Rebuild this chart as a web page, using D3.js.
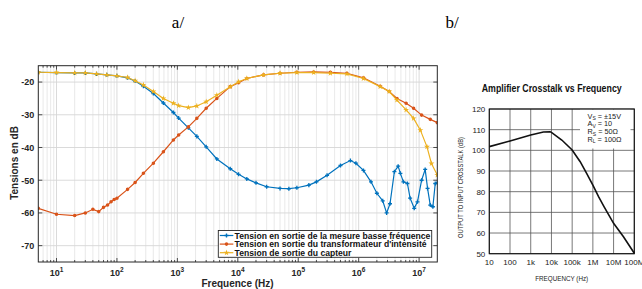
<!DOCTYPE html>
<html><head><meta charset="utf-8">
<script src="https://cdn.jsdelivr.net/npm/d3@7"></script>
<style>body{margin:0;background:#fff}svg{display:block}</style>
</head><body>
<svg id="c" width="642" height="289"></svg>
<script>
// ---------- Chart a/ data ----------
const seriesNames = ["Tension en sortie de la mesure basse fréquence","Tension en sortie du transformateur d'intensité","Tension de sortie du capteur"];
const freqBF = [5,10,20,30,46,68,100,150,200,274,401,587,860,1050,1520,2100,3000,4500,7500,10300,14100,20000,30000,50000,70000,95000,150000,200000,300000,500000,730000,900000,1200000,1600000,2000000,2500000,2900000,3300000,3900000,4500000,4900000,5500000,6400000,7100000,8300000,9400000,11000000,12600000,13800000,15300000,16900000,18500000,20000000];
const dbBF = [-17,-17.1,-17.2,-17.2,-17.5,-17.8,-18.1,-18.7,-19.7,-21.3,-23.5,-26.4,-29.3,-31,-34,-36.6,-39.8,-43.5,-46.5,-48.2,-49.6,-50.8,-52,-52.5,-52.6,-52.3,-51.5,-50.5,-48.5,-45.5,-44,-44.8,-47,-50.5,-54,-56.3,-60,-57.2,-47.4,-45.7,-47.9,-50.5,-51,-55.5,-58.6,-56.6,-50,-46.7,-52.5,-57.6,-58.1,-51,-50.8];
const freqTI = [5,10,20,30,40,50,60,70,80,90,100,150,200,274,401,587,860,1050,1520,2100,3000,4500,7500,10300,14100,26700,50000,95000,180000,340000,640000,1200000,2270000,3200000,4300000,6100000,8100000,11000000,15300000,20000000];
const dbTI = [-58.6,-60.4,-60.8,-60,-58.9,-59.6,-58.3,-57.6,-56.6,-55.9,-55.5,-52.8,-50.7,-47.9,-44.8,-41.3,-37.7,-36.2,-33.7,-31.1,-28,-25,-21.4,-20.2,-18.9,-17.8,-17.3,-17,-16.9,-17,-17.3,-18.7,-21.3,-22.9,-25,-26.5,-28,-30.1,-31.4,-32.4];
const freqC = [5,10,20,30,46,68,100,150,200,274,401,587,860,1050,1520,2100,3000,4500,7500,10300,14100,26700,50000,95000,180000,340000,640000,1200000,2270000,3200000,4300000,6100000,8100000,10500000,13500000,16000000,20000000];
const dbC = [-17,-17.1,-17.2,-17.2,-17.5,-17.8,-18.1,-18.6,-19.6,-20.9,-22.9,-25,-26.5,-27.2,-27.8,-27.3,-26,-24,-21.4,-19.9,-18.9,-17.8,-17.3,-17.1,-17.1,-17.3,-17.5,-18.9,-21.4,-22.9,-25.5,-28.5,-31.1,-34.7,-39.8,-44.9,-48.4];
const yTicksA = [-70,-60,-50,-40,-30,-20];
const xExpA = [1,2,3,4,5,6,7];

// ---------- Chart b/ data ----------
const freqX = [10,100,1000,4100,8600,10000,31600,100000,244000,500000,1000000,1880000,3500000,10000000,30000000,100000000];
const crosstalk = [101.8,104.5,107.4,108.9,109,108.7,105,100.2,94.5,88.9,83.2,77.6,72.7,64.7,58.2,50.2];
const xTicksB = [10,100,1e3,1e4,1e5,1e6,1e7,1e8];
const xLabelsB = ["10","100","1k","10k","100k","1M","10M","100M"];
const yTicksB = [50,60,70,80,90,100,110,120];
const condLines = [["V","S"," = ±15V"],["A","V"," = 10"],["R","S"," = 50Ω"],["R","L"," = 100Ω"]];

const svg = d3.select("#c");
const FA = "'Liberation Sans', Arial, Helvetica, sans-serif";
const FN = "'Liberation Sans Narrow', 'Arial Narrow', 'Liberation Sans', Arial, sans-serif";

// panel letters
svg.append("text").attr("x",178).attr("y",28).attr("text-anchor","middle")
  .attr("font-family","'Liberation Serif','Times New Roman',serif").attr("font-size",17).text("a/");
svg.append("text").attr("x",452).attr("y",28).attr("text-anchor","middle")
  .attr("font-family","'Liberation Serif','Times New Roman',serif").attr("font-size",17).text("b/");

// ================= Chart a =================
const A = {l:38.3, r:437.3, t:65.7, b:262};
const xa = d3.scaleLog().domain([5,2e7]).range([A.l,A.r]);
const ya = d3.scaleLinear().domain([-75,-15]).range([A.b,A.t]);
const ga = svg.append("g");
ga.append("rect").attr("x",A.l).attr("y",A.t).attr("width",A.r-A.l).attr("height",A.b-A.t).attr("fill","#fff");
const minorA = [];
for (let d=0; d<=7; d++) for (let k=2;k<=9;k++){const v=k*Math.pow(10,d); if(v>5 && v<2e7) minorA.push(v);}
const majorA = xExpA.map(e=>Math.pow(10,e));
ga.selectAll(".mg").data(minorA).enter().append("line")
  .attr("x1",d=>xa(d)).attr("x2",d=>xa(d)).attr("y1",A.t).attr("y2",A.b)
  .attr("stroke","#e3e3e3").attr("stroke-width",0.8);
ga.selectAll(".Mg").data(majorA).enter().append("line")
  .attr("x1",d=>xa(d)).attr("x2",d=>xa(d)).attr("y1",A.t).attr("y2",A.b)
  .attr("stroke","#d6d6d6").attr("stroke-width",0.9);
ga.selectAll(".yg").data(yTicksA).enter().append("line")
  .attr("x1",A.l).attr("x2",A.r).attr("y1",d=>ya(d)).attr("y2",d=>ya(d))
  .attr("stroke","#d6d6d6").attr("stroke-width",0.9);

const cols = ["#0072BD","#D95319","#EDB120"];
const sets = [[freqBF,dbBF],[freqTI,dbTI],[freqC,dbC]];
svg.append("clipPath").attr("id","ca").append("rect")
  .attr("x",A.l).attr("y",A.t).attr("width",A.r-A.l).attr("height",A.b-A.t);
const gs = ga.append("g").attr("clip-path","url(#ca)");
const line = d3.line().x(d=>xa(d[0])).y(d=>ya(d[1]));
const symbols = [d3.symbolCross, d3.symbolCircle, d3.symbolStar];
const sizes = [9, 10, 11];
sets.forEach((s,i)=>{
  const pts = s[0].map((f,j)=>[f,s[1][j]]);
  gs.append("path").datum(pts).attr("d",line).attr("fill","none").attr("stroke",cols[i]).attr("stroke-width",1.2);
  gs.selectAll(".m"+i).data(pts).enter().append("path")
    .attr("transform",d=>`translate(${xa(d[0])},${ya(d[1])})`)
    .attr("d",d3.symbol().type(symbols[i]).size(sizes[i])).attr("fill",cols[i]);
});

ga.append("rect").attr("x",A.l).attr("y",A.t).attr("width",A.r-A.l).attr("height",A.b-A.t)
  .attr("fill","none").attr("stroke","#262626").attr("stroke-width",1);
const tk = ga.append("g").attr("stroke","#262626").attr("stroke-width",0.8);
minorA.forEach(v=>{
  tk.append("line").attr("x1",xa(v)).attr("x2",xa(v)).attr("y1",A.b).attr("y2",A.b-2);
  tk.append("line").attr("x1",xa(v)).attr("x2",xa(v)).attr("y1",A.t).attr("y2",A.t+2);
});
majorA.forEach(v=>{
  tk.append("line").attr("x1",xa(v)).attr("x2",xa(v)).attr("y1",A.b).attr("y2",A.b-4);
  tk.append("line").attr("x1",xa(v)).attr("x2",xa(v)).attr("y1",A.t).attr("y2",A.t+4);
});
yTicksA.forEach(v=>{
  tk.append("line").attr("x1",A.l).attr("x2",A.l+4).attr("y1",ya(v)).attr("y2",ya(v));
  tk.append("line").attr("x1",A.r).attr("x2",A.r-4).attr("y1",ya(v)).attr("y2",ya(v));
});
ga.selectAll(".yl").data(yTicksA).enter().append("text")
  .attr("x",A.l-4).attr("y",d=>ya(d)+3.3).attr("text-anchor","end")
  .attr("font-family",FA).attr("font-weight","bold").attr("font-size",9).attr("fill","#262626")
  .text(d=>d);
xExpA.forEach(e=>{
  const t = ga.append("text").attr("x",xa(Math.pow(10,e))).attr("y",276).attr("text-anchor","middle")
    .attr("font-family",FA).attr("font-weight","bold").attr("font-size",9).attr("fill","#262626");
  t.append("tspan").text("10");
  t.append("tspan").attr("dy",-4).attr("font-size",6.5).text(e);
});
ga.append("text").attr("x",237.5).attr("y",287).attr("text-anchor","middle")
  .attr("font-family",FA).attr("font-weight","bold").attr("font-size",10).attr("fill","#262626")
  .text("Frequence (Hz)");
ga.append("text").attr("transform","translate(18,163) rotate(-90)").attr("text-anchor","middle")
  .attr("font-family",FA).attr("font-weight","bold").attr("font-size",10).attr("fill","#262626")
  .text("Tensions en dB");

const L = {x:218.3, y:230.5, w:213.4, h:26.8};
ga.append("rect").attr("x",L.x).attr("y",L.y).attr("width",L.w).attr("height",L.h)
  .attr("fill","#fff").attr("stroke","#262626").attr("stroke-width",0.9);
seriesNames.forEach((n,i)=>{
  const yy = L.y + 5 + i*8.6;
  ga.append("line").attr("x1",L.x+1.5).attr("x2",L.x+15).attr("y1",yy).attr("y2",yy)
    .attr("stroke",cols[i]).attr("stroke-width",1.2);
  ga.append("path").attr("transform",`translate(${L.x+8.2},${yy})`)
    .attr("d",d3.symbol().type(symbols[i]).size(sizes[i])).attr("fill",cols[i]);
  ga.append("text").attr("x",L.x+16.3).attr("y",yy+3).attr("font-family",FA).attr("font-weight","bold")
    .attr("font-size",8.6).attr("fill","#111").text(n);
});

// ================= Chart b =================
const B = {l:489.3, r:634.3, t:109, b:253.7};
const xb = d3.scaleLog().domain([10,1e8]).range([B.l,B.r]);
const yb = d3.scaleLinear().domain([50,120]).range([B.b,B.t]);
const gb = svg.append("g");
gb.selectAll(".bx").data(xTicksB).enter().append("line")
  .attr("x1",d=>xb(d)).attr("x2",d=>xb(d)).attr("y1",B.t).attr("y2",B.b)
  .attr("stroke","#555").attr("stroke-width",0.8);
gb.selectAll(".by").data(yTicksB).enter().append("line")
  .attr("x1",B.l).attr("x2",B.r).attr("y1",d=>yb(d)).attr("y2",d=>yb(d))
  .attr("stroke","#555").attr("stroke-width",0.8);
gb.append("rect").attr("x",580).attr("y",B.t+0.5).attr("width",50.5).attr("height",39).attr("fill","#fff");
condLines.forEach((c,i)=>{
  const t = gb.append("text").attr("x",587.5).attr("y",118.8+i*7.6)
    .attr("font-family",FN).attr("font-size",7.3).attr("fill","#222");
  t.append("tspan").text(c[0]);
  t.append("tspan").attr("dy",1.5).attr("font-size",5).text(c[1]);
  t.append("tspan").attr("dy",-1.5).text(c[2]);
});
gb.append("rect").attr("x",B.l).attr("y",B.t).attr("width",B.r-B.l).attr("height",B.b-B.t)
  .attr("fill","none").attr("stroke","#111").attr("stroke-width",1.1);
const lb = d3.line().x(d=>xb(d[0])).y(d=>yb(d[1]));
gb.append("path").datum(freqX.map((f,j)=>[f,crosstalk[j]])).attr("d",lb)
  .attr("fill","none").attr("stroke","#111").attr("stroke-width",1.6);
gb.selectAll(".byl").data(yTicksB).enter().append("text")
  .attr("x",B.l-4).attr("y",d=>yb(d)+3).attr("text-anchor","end")
  .attr("font-family",FN).attr("font-size",8).attr("fill","#222").text(d=>d);
gb.selectAll(".bxl").data(xTicksB).enter().append("text")
  .attr("x",d=>xb(d)).attr("y",264.5).attr("text-anchor","middle")
  .attr("font-family",FN).attr("font-size",8).attr("fill","#222").text((d,i)=>xLabelsB[i]);
gb.append("text").attr("x",561.7).attr("y",281).attr("text-anchor","middle")
  .attr("font-family",FN).attr("font-size",8).attr("fill","#222")
  .attr("textLength",53).attr("lengthAdjust","spacingAndGlyphs").text("FREQUENCY (Hz)");
gb.append("text").attr("transform","translate(463,187.5) rotate(-90)").attr("text-anchor","middle")
  .attr("font-family",FN).attr("font-size",7.5).attr("fill","#222")
  .attr("textLength",101).attr("lengthAdjust","spacingAndGlyphs").text("OUTPUT TO INPUT CROSSTALK (dB)");
gb.append("text").attr("x",551.7).attr("y",92).attr("text-anchor","middle")
  .attr("font-family",FN).attr("font-weight","bold").attr("font-size",11).attr("fill","#111")
  .attr("textLength",140).attr("lengthAdjust","spacingAndGlyphs").text("Amplifier Crosstalk vs Frequency");
</script>
</body></html>
